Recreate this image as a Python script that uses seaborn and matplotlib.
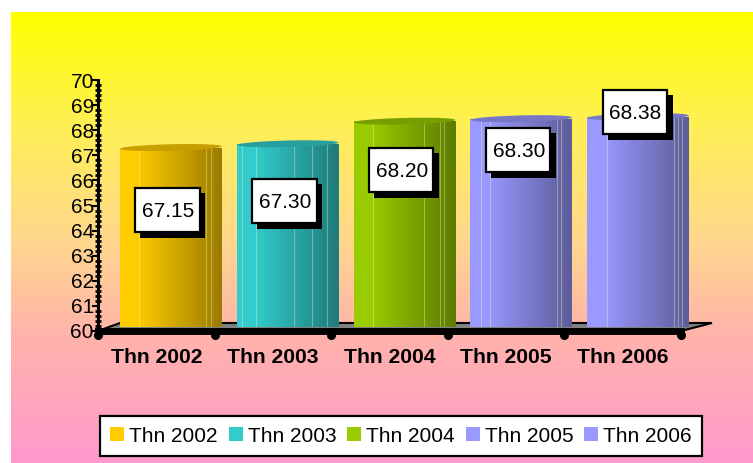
import numpy as np
import pandas as pd
import matplotlib
matplotlib.use("Agg")
import matplotlib.pyplot as plt
import matplotlib.ticker as mticker
from matplotlib.colors import LinearSegmentedColormap, to_rgb
from matplotlib.patches import Patch, Polygon, Rectangle
import seaborn as sns

# Data
years = ['Thn 2002', 'Thn 2003', 'Thn 2004', 'Thn 2005', 'Thn 2006']
values = [67.15, 67.30, 68.20, 68.30, 68.38]
value_labels = ['67.15', '67.30', '68.20', '68.30', '68.38']
y_ticks = [60, 61, 62, 63, 64, 65, 66, 67, 68, 69, 70]

# Styling
bar_colors = ['#ffcc00', '#33cccc', '#99cc00', '#9999ff', '#9999ff']
stripes = [[.19, .85, .89], [.05, .19, .56, .74, .89], [.19, .69, .85, .89],
           [.10, .19, .85, .89], [.19, .85, .89, .93]]
label_drop = [62, 57, 48.5, 31, -5]  # px below the bar top

W, H = 753, 463
sns.set_theme(style="white")
plt.rcParams['font.family'] = ['Liberation Sans', 'DejaVu Sans']
plt.rcParams['font.size'] = 15

fig = plt.figure(figsize=(W / 100, H / 100), dpi=100, facecolor='white')


def px_axes(left, right, top, bottom):
    return fig.add_axes([left / W, 1 - bottom / H, (right - left) / W, (bottom - top) / H])


# Background gradient and floor, in pixel coordinates
ax_bg = fig.add_axes([0, 0, 1, 1], zorder=0)
grad = LinearSegmentedColormap.from_list('bg', [(0, '#ffff00'), (.25, '#fff055'), (.5, '#ffd88c'),
                                                (.72, '#ffb3ac'), (1, '#ff99cc')])
ax_bg.imshow(np.linspace(0, 1, 256)[:, None], cmap=grad, aspect='auto', extent=(11, W, H, 12))
ax_bg.add_patch(Polygon([(98, 331), (120, 323), (712, 323), (681, 331)], closed=True,
                        facecolor='#808080', edgecolor='black', linewidth=1.5))
ax_bg.set_xlim(0, W)
ax_bg.set_ylim(H, 0)
ax_bg.axis('off')

# Front axis
ax = px_axes(98, 681, 80, 331)
ax.set_zorder(1)
ax.patch.set_alpha(0)
ax.set_xlim(-0.5, 4.5)
ax.set_ylim(60, 70)
ax.set_xticks(range(len(years)))
ax.set_xticklabels(years, fontweight='bold', fontsize=15.2, color='black')
ax.set_yticks(y_ticks)
ax.set_yticklabels([str(t) for t in y_ticks], fontsize=15, color='black')
ax.yaxis.set_minor_locator(mticker.MultipleLocator(0.2))
ax.tick_params(axis='x', length=0, pad=12)
ax.tick_params(axis='y', which='major', left=True, length=4, width=1.5, color='black', pad=-1)
ax.tick_params(axis='y', which='minor', left=True, direction='inout', length=4, width=2, color='black')
sns.despine(ax=ax, top=True, right=True)
ax.spines['left'].set_linewidth(2.2)
ax.spines['left'].set_color('black')
ax.spines['bottom'].set_linewidth(5)
ax.spines['bottom'].set_color('black')
ax.plot(np.arange(-0.5, 5), [59.83] * 6, 'o', color='black', ms=5.5, clip_on=False)

# Cylinders, shifted back from the front axis
df = pd.DataFrame({'year': years, 'value': values})
ax_bar = px_axes(112.5, 696.4, 76, 327)
ax_bar.set_zorder(2)
ax_bar.patch.set_alpha(0)
sns.barplot(data=df, x='year', y='value', hue='year', palette=bar_colors, width=0.87,
            saturation=1, legend=False, ax=ax_bar)
ax_bar.set_ylim(60, 70)
xlim = ax_bar.get_xlim()

fracs = (np.arange(26) + 0.5) / 26
shade = np.interp(fracs, [0, .17, 1], [1, 1, .6])
theta = np.linspace(0, 2 * np.pi, 100)
for bar, color, lines in zip(ax_bar.patches, bar_colors, stripes):
    rgb = np.array(to_rgb(color))
    x0, w, top = bar.get_x(), bar.get_width(), bar.get_height() + bar.get_y()
    bar.set_facecolor('none')
    bar.set_edgecolor('none')
    img = ax_bar.imshow((shade[:, None] * rgb)[None, :, :], aspect='auto',
                        extent=(x0, x0 + w, 60, top), interpolation='nearest', zorder=2)
    img.set_clip_path(bar)
    ax_bar.vlines([x0 + f * w for f in lines], 60, top, color=(1, 1, .75), alpha=.35, lw=.8, zorder=3)
    # tilted top of the cylinder
    ex = x0 + w / 2 + w / 2 * np.cos(theta)
    ey = top + 0.13 * np.sin(theta) + 0.05 * np.cos(theta)
    ax_bar.fill(ex, ey, color=rgb * .78, lw=0, zorder=4, clip_on=False)
ax_bar.set_xlim(xlim)
ax_bar.set_ylim(60, 70)
ax_bar.axis('off')

# Value boxes with hard shadow, placed from the bar tops
ax_top = fig.add_axes([0, 0, 1, 1], zorder=3)
ax_top.set_xlim(0, W)
ax_top.set_ylim(H, 0)
ax_top.axis('off')
px_per_cat = (696.4 - 112.5) / 5
px_per_val = (327 - 76) / 10
for i, (val, txt, drop) in enumerate(zip(values, value_labels, label_drop)):
    cx = 112.5 + (i + 0.5) * px_per_cat - 3.5
    cy = 327 - (val - 60) * px_per_val + drop
    ax_top.add_patch(Rectangle((cx - 27, cy - 17), 65, 45, facecolor='black', edgecolor='black', lw=0))
    ax_top.add_patch(Rectangle((cx - 32, cy - 22), 64.5, 44.5, facecolor='white', edgecolor='black', lw=1.6))
    ax_top.text(cx + 1, cy + 2, txt, ha='center', va='center', fontsize=15, color='black')

# Legend
handles = [Patch(facecolor=c, edgecolor='none', label=y) for c, y in zip(bar_colors, years)]
leg = fig.legend(handles=handles, ncol=5, loc='center', bbox_to_anchor=(401 / W, 1 - 436 / H),
                 fontsize=15, frameon=True, fancybox=False, edgecolor='black', facecolor='white',
                 framealpha=1, handlelength=0.67, handleheight=0.67, handletextpad=0.24,
                 columnspacing=0.52, borderpad=0.5, borderaxespad=0)
leg.get_frame().set_linewidth(1.6)
leg.set_zorder(5)
for t in leg.get_texts():
    t.set_color('black')

fig.savefig('out.png', dpi=100)
